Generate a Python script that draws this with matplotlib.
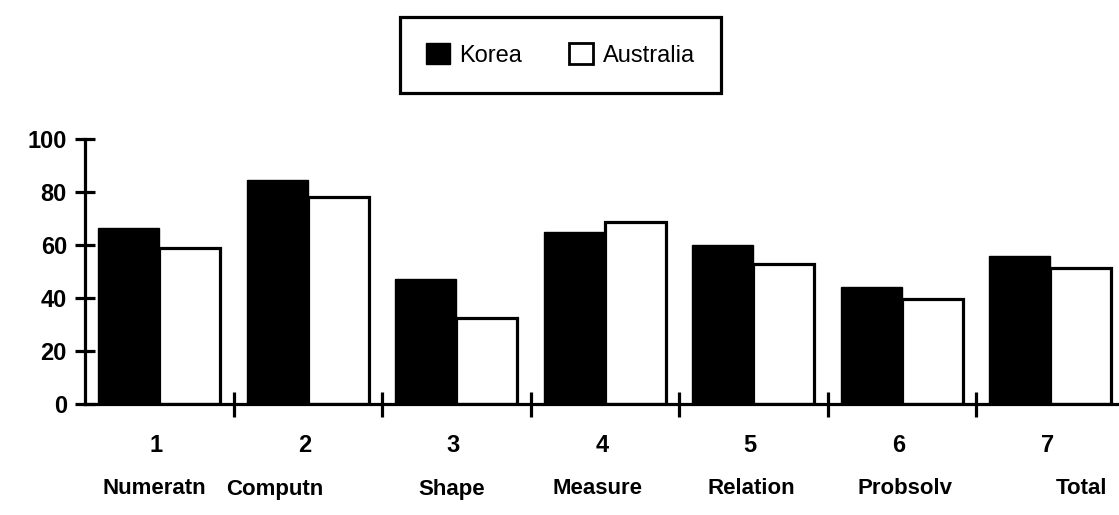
import matplotlib
matplotlib.use("Agg")
import matplotlib.pyplot as plt
import matplotlib.transforms as mtransforms
from matplotlib.patches import Patch
import numpy as np

plt.rcParams['font.family'] = ['Liberation Sans', 'DejaVu Sans']

# data
numbers = ["1", "2", "3", "4", "5", "6", "7"]
names = ["Numeratn", "Computn", "Shape", "Measure", "Relation", "Probsolv", "Total"]
korea = [66.5, 84.5, 47, 65, 60, 44, 56]
australia = [59, 78, 32.5, 68.5, 53, 39.5, 51.5]

# where the typed labels sit inside each category
name_pos = [0.47, 0.28, 0.47, 0.45, 0.49, 0.52, 0.71]

W, H = 1119, 515
fig = plt.figure(figsize=(W / 100, H / 100), dpi=100)

left, right = 85, W
y0, y100 = 404, 139
ax = fig.add_axes([left / W, (H - y0) / H, (right - left) / W, (y0 - y100) / H])

cat_w = 148.5
x = np.arange(len(names))
bw = 0.41
ax.bar(x + 0.09, korea, width=bw, align="edge", color="black", edgecolor="black", lw=1)
ax.bar(x + 0.09 + bw, australia, width=bw, align="edge", color="white", edgecolor="black", lw=2.3)

ax.set_xlim(0, (right - left) / cat_w)
ax.set_ylim(0, 100)

for s in ["top", "right"]:
    ax.spines[s].set_visible(False)
ax.spines["left"].set_linewidth(2.3)
ax.spines["bottom"].set_linewidth(2.3)

ax.set_yticks([0, 20, 40, 60, 80, 100])
ax.set_yticklabels(["0", "20", "40", "60", "80", "100"], fontsize=17, fontweight="bold")
for t in ax.get_yticklabels():
    t.set_fontstretch("expanded")
ax.set_xticks(np.arange(1, len(names)))
ax.set_xticklabels([])
ax.tick_params(axis="y", direction="inout", length=14, width=2.3, pad=6)
ax.tick_params(axis="x", direction="inout", length=18, width=2.3)

trans = mtransforms.blended_transform_factory(ax.transData, fig.transFigure)
for i in range(len(names)):
    ax.text(i + 0.48, (H - 445) / H, numbers[i], transform=trans, ha="center", va="center",
            fontsize=17, fontweight="bold")
    ax.text(i + name_pos[i], (H - 489) / H, names[i], transform=trans, ha="center", va="center",
            fontsize=16, fontweight="bold")

handles = [Patch(facecolor="black", edgecolor="black", lw=1, label="Korea"),
           Patch(facecolor="white", edgecolor="black", lw=2, label="Australia")]
leg = fig.legend(handles=handles, ncol=2, loc="center",
                 bbox_to_anchor=((396 + 725) / 2 / W, 1 - 55 / H),
                 frameon=True, fancybox=False, framealpha=1, fontsize=17,
                 handlelength=1.0, handleheight=1.0, handletextpad=0.4,
                 columnspacing=2.0, borderpad=1.1, borderaxespad=0, edgecolor="black")
leg.get_frame().set_linewidth(2.3)

fig.savefig("out.png", dpi=100)
